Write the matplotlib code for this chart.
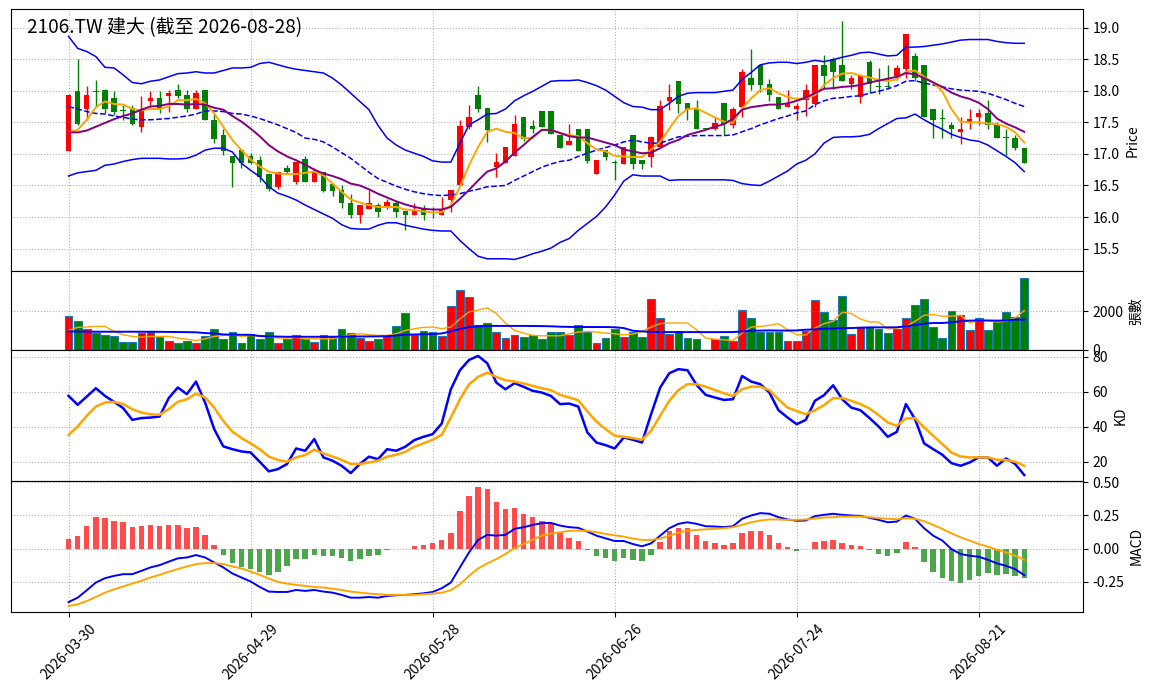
import numpy as np
import pandas as pd
import matplotlib
matplotlib.use("Agg")
import matplotlib.pyplot as plt

plt.rcParams['font.family'] = ['Noto Sans CJK TC', 'DejaVu Sans']
plt.rcParams['axes.unicode_minus'] = False

# ==========================
# DADOS
# ==========================
TITLE = "2106.TW 建大 (截至 2026-08-28)"
HOLIDAYS = ["2026-04-03", "2026-04-06", "2026-05-01", "2026-06-19"]
dates = pd.bdate_range("2026-03-30", "2026-08-28")
dates = dates[~dates.isin(pd.to_datetime(HOLIDAYS))]

opens = [
    17.05, 17.99, 17.71, 17.99, 18.01, 17.88, 17.69, 17.73, 17.43, 17.83,
    17.88, 17.92, 18.01, 17.93, 17.71, 18.01, 17.54, 17.30, 16.97, 17.06,
    16.97, 16.90, 16.68, 16.48, 16.77, 16.56, 16.92, 16.56, 16.72, 16.52,
    16.43, 16.22, 16.03, 16.13, 16.19, 16.17, 16.22, 16.09, 16.03, 16.13,
    16.08, 16.03, 16.27, 16.50, 17.43, 17.93, 17.72, 16.80, 16.86, 16.96,
    17.58, 17.44, 17.68, 17.68, 17.30, 17.14, 17.40, 17.40, 16.68, 17.06,
    16.86, 16.84, 17.30, 16.90, 16.95, 17.11, 17.84, 18.16, 17.80, 17.71,
    17.40, 17.40, 17.80, 17.45, 17.75, 18.20, 18.41, 18.10, 17.90, 17.75,
    17.71, 17.86, 17.79, 18.41, 18.50, 18.41, 18.11, 17.90, 18.45, 18.07,
    18.07, 18.24, 18.34, 18.55, 18.41, 17.71, 17.56, 17.46, 17.34, 17.50,
    17.59, 17.64, 17.46, 17.26, 17.25, 17.10,
]
highs = [
    17.94, 18.50, 18.07, 18.17, 18.02, 17.99, 17.77, 17.77, 17.92, 17.99,
    17.99, 18.01, 18.10, 18.01, 18.01, 18.01, 17.64, 17.40, 16.97, 17.06,
    17.01, 16.97, 16.69, 16.72, 16.82, 16.87, 16.97, 16.77, 16.72, 16.52,
    16.50, 16.37, 16.19, 16.43, 16.22, 16.28, 16.26, 16.09, 16.22, 16.19,
    16.16, 16.32, 16.43, 17.53, 17.78, 18.07, 17.72, 17.01, 17.11, 17.61,
    17.58, 17.53, 17.68, 17.68, 17.30, 17.48, 17.40, 17.40, 16.90, 17.06,
    16.90, 17.11, 17.30, 16.90, 17.29, 17.85, 18.11, 18.16, 17.80, 17.85,
    17.40, 17.58, 17.80, 17.75, 18.35, 18.66, 18.41, 18.19, 17.90, 18.01,
    17.80, 18.11, 18.41, 18.56, 18.54, 19.10, 18.25, 18.24, 18.49, 18.36,
    18.41, 18.41, 18.90, 18.59, 18.41, 17.71, 17.71, 17.50, 17.59, 17.71,
    17.71, 17.85, 17.50, 17.40, 17.30, 17.10,
]
lows = [
    17.04, 17.45, 17.54, 17.75, 17.64, 17.62, 17.54, 17.45, 17.34, 17.75,
    17.64, 17.66, 17.88, 17.66, 17.71, 17.53, 17.17, 16.98, 16.48, 16.77,
    16.84, 16.56, 16.42, 16.45, 16.69, 16.52, 16.56, 16.56, 16.40, 16.33,
    16.14, 15.99, 15.90, 16.13, 16.00, 16.13, 16.00, 15.80, 16.03, 15.95,
    15.99, 16.03, 16.08, 16.50, 17.40, 17.67, 17.19, 16.64, 16.86, 16.96,
    17.20, 17.33, 17.43, 17.32, 17.10, 17.14, 17.05, 16.85, 16.68, 16.90,
    16.58, 16.84, 16.76, 16.76, 16.80, 17.11, 17.70, 17.64, 17.54, 17.40,
    17.40, 17.38, 17.30, 17.41, 17.59, 18.01, 17.98, 17.84, 17.71, 17.75,
    17.54, 17.60, 17.75, 18.04, 18.02, 18.15, 18.02, 17.80, 17.96, 17.95,
    18.02, 18.17, 18.20, 18.15, 17.59, 17.25, 17.25, 17.25, 17.16, 17.40,
    17.46, 17.40, 17.25, 16.99, 17.06, 16.85,
]
closes = [
    17.93, 17.48, 17.93, 17.98, 17.71, 17.67, 17.68, 17.48, 17.71, 17.88,
    17.71, 17.97, 17.92, 17.71, 17.97, 17.53, 17.24, 17.05, 16.86, 16.86,
    16.86, 16.63, 16.45, 16.72, 16.72, 16.87, 16.56, 16.71, 16.42, 16.42,
    16.22, 16.03, 16.19, 16.22, 16.08, 16.24, 16.08, 16.03, 16.11, 16.03,
    16.07, 16.13, 16.43, 17.44, 17.58, 17.71, 17.38, 16.87, 17.11, 17.48,
    17.24, 17.39, 17.43, 17.32, 17.10, 17.20, 17.05, 16.89, 16.90, 16.95,
    16.85, 17.11, 16.84, 16.84, 17.26, 17.76, 17.90, 17.79, 17.70, 17.40,
    17.40, 17.49, 17.48, 17.71, 18.30, 18.09, 18.09, 17.93, 17.71, 17.81,
    17.76, 18.01, 18.41, 18.24, 18.29, 18.15, 18.20, 18.24, 18.11, 18.06,
    18.06, 18.36, 18.90, 18.20, 17.59, 17.54, 17.55, 17.40, 17.40, 17.55,
    17.64, 17.45, 17.25, 17.25, 17.10, 16.85,
]
volume = [
    1739, 1478, 1096, 870, 748, 696, 435, 435, 870, 904,
    643, 487, 383, 487, 383, 696, 1078, 557, 922, 348,
    817, 557, 922, 348, 557, 748, 574, 400, 748, 643,
    1078, 870, 609, 487, 574, 748, 1217, 1913, 783, 957,
    922, 696, 2261, 3096, 2730, 1270, 1391, 922, 609, 748,
    643, 748, 557, 922, 922, 748, 1270, 922, 348, 609,
    1078, 643, 922, 661, 2643, 1635, 817, 957, 609, 557,
    0, 557, 696, 470, 2052, 1635, 922, 922, 922, 470,
    470, 991, 2574, 1965, 1530, 2783, 817, 1183, 1183, 1078,
    870, 1078, 1635, 2330, 2643, 1183, 609, 2017, 1791, 1026,
    1635, 1026, 1478, 1965, 1687, 3687,
]

# indicadores
ma5 = [
    17.34, 17.38, 17.54, 17.74, 17.83, 17.79, 17.78, 17.71, 17.69, 17.71,
    17.71, 17.75, 17.85, 17.85, 17.87, 17.80, 17.64, 17.43, 17.22, 17.06,
    16.91, 16.80, 16.72, 16.69, 16.68, 16.68, 16.70, 16.72, 16.66, 16.53,
    16.40, 16.28, 16.23, 16.19, 16.16, 16.16, 16.16, 16.12, 16.11, 16.09,
    16.07, 16.08, 16.19, 16.48, 16.82, 17.11, 17.35, 17.40, 17.35, 17.33,
    17.25, 17.25, 17.38, 17.38, 17.33, 17.30, 17.28, 17.17, 17.07, 17.04,
    16.97, 16.96, 16.95, 16.95, 17.07, 17.19, 17.40, 17.60, 17.71, 17.72,
    17.65, 17.58, 17.51, 17.49, 17.72, 17.88, 18.01, 18.04, 17.96, 17.90,
    17.87, 17.88, 17.93, 18.09, 18.20, 18.27, 18.28, 18.24, 18.21, 18.17,
    18.15, 18.18, 18.30, 18.32, 18.22, 18.13, 17.99, 17.71, 17.51, 17.50,
    17.50, 17.48, 17.47, 17.43, 17.34, 17.18,
]
ma10 = [
    17.34, 17.34, 17.37, 17.43, 17.49, 17.55, 17.60, 17.64, 17.70, 17.75,
    17.76, 17.79, 17.79, 17.78, 17.79, 17.78, 17.73, 17.70, 17.60, 17.51,
    17.40, 17.28, 17.14, 17.04, 16.96, 16.90, 16.83, 16.75, 16.69, 16.65,
    16.60, 16.53, 16.50, 16.44, 16.37, 16.31, 16.25, 16.20, 16.16, 16.13,
    16.12, 16.12, 16.16, 16.29, 16.43, 16.58, 16.72, 16.77, 16.88, 17.02,
    17.14, 17.27, 17.38, 17.38, 17.33, 17.28, 17.26, 17.26, 17.22, 17.18,
    17.14, 17.07, 17.04, 17.01, 17.02, 17.09, 17.17, 17.22, 17.30, 17.34,
    17.38, 17.43, 17.47, 17.56, 17.70, 17.74, 17.76, 17.78, 17.78, 17.80,
    17.84, 17.89, 17.96, 18.03, 18.04, 18.06, 18.07, 18.09, 18.13, 18.16,
    18.19, 18.22, 18.28, 18.26, 18.20, 18.13, 18.06, 17.97, 17.91, 17.87,
    17.81, 17.71, 17.56, 17.48, 17.42, 17.35,
]
bb_mid = [
    17.75, 17.71, 17.67, 17.64, 17.63, 17.60, 17.58, 17.55, 17.54, 17.54,
    17.55, 17.56, 17.58, 17.60, 17.63, 17.68, 17.68, 17.67, 17.64, 17.63,
    17.60, 17.56, 17.51, 17.46, 17.40, 17.34, 17.25, 17.23, 17.19, 17.11,
    17.02, 16.93, 16.82, 16.71, 16.61, 16.55, 16.49, 16.44, 16.40, 16.37,
    16.35, 16.34, 16.35, 16.37, 16.41, 16.44, 16.48, 16.49, 16.50, 16.58,
    16.65, 16.72, 16.79, 16.84, 16.88, 16.90, 16.96, 17.01, 17.06, 17.10,
    17.14, 17.19, 17.22, 17.19, 17.17, 17.17, 17.22, 17.27, 17.28, 17.29,
    17.29, 17.29, 17.29, 17.30, 17.35, 17.40, 17.46, 17.51, 17.56, 17.60,
    17.65, 17.68, 17.78, 17.84, 17.88, 17.89, 17.91, 17.92, 17.96, 17.99,
    18.03, 18.08, 18.15, 18.16, 18.12, 18.09, 18.06, 18.03, 18.01, 18.00,
    17.99, 17.96, 17.91, 17.86, 17.80, 17.75,
]
bb_upper = [
    18.86, 18.67, 18.62, 18.54, 18.37, 18.36, 18.25, 18.13, 18.11, 18.15,
    18.17, 18.22, 18.27, 18.28, 18.30, 18.28, 18.28, 18.32, 18.36, 18.36,
    18.37, 18.43, 18.45, 18.41, 18.37, 18.34, 18.32, 18.30, 18.28, 18.20,
    18.09, 17.96, 17.83, 17.70, 17.45, 17.25, 17.14, 17.06, 17.01, 16.96,
    16.89, 16.87, 16.87, 17.17, 17.46, 17.54, 17.63, 17.64, 17.71, 17.84,
    17.92, 17.99, 18.07, 18.15, 18.16, 18.16, 18.17, 18.13, 18.08, 18.01,
    17.91, 17.81, 17.75, 17.74, 17.70, 17.70, 17.80, 17.91, 17.96, 17.97,
    17.97, 17.97, 17.99, 18.01, 18.18, 18.29, 18.41, 18.44, 18.45, 18.45,
    18.43, 18.45, 18.48, 18.46, 18.49, 18.53, 18.56, 18.60, 18.61, 18.58,
    18.55, 18.56, 18.69, 18.69, 18.70, 18.72, 18.74, 18.77, 18.80, 18.81,
    18.81, 18.81, 18.78, 18.76, 18.75, 18.75,
]
bb_lower = [
    16.65, 16.70, 16.72, 16.74, 16.82, 16.84, 16.88, 16.91, 16.93, 16.93,
    16.93, 16.92, 16.92, 16.93, 16.98, 17.06, 17.09, 17.09, 17.03, 16.85,
    16.74, 16.64, 16.48, 16.38, 16.33, 16.27, 16.19, 16.12, 16.05, 15.98,
    15.88, 15.82, 15.81, 15.81, 15.87, 15.91, 15.91, 15.87, 15.84, 15.81,
    15.79, 15.78, 15.78, 15.63, 15.50, 15.38, 15.34, 15.34, 15.34, 15.33,
    15.37, 15.42, 15.46, 15.51, 15.60, 15.66, 15.79, 15.90, 16.01, 16.16,
    16.35, 16.57, 16.67, 16.65, 16.65, 16.65, 16.58, 16.59, 16.59, 16.59,
    16.59, 16.59, 16.59, 16.58, 16.53, 16.51, 16.50, 16.57, 16.65, 16.73,
    16.84, 16.90, 17.00, 17.17, 17.26, 17.27, 17.27, 17.28, 17.31, 17.40,
    17.48, 17.56, 17.57, 17.63, 17.54, 17.46, 17.39, 17.31, 17.26, 17.22,
    17.20, 17.14, 17.05, 16.96, 16.86, 16.72,
]
vol_ma5 = [
    1009, 1165, 1183, 1217, 1217, 957, 783, 696, 661, 696,
    696, 696, 609, 557, 487, 574, 696, 748, 783, 696,
    748, 696, 696, 609, 609, 643, 574, 574, 574, 574,
    696, 783, 835, 783, 748, 748, 835, 1009, 1096, 1165,
    1183, 1096, 1183, 1600, 1965, 2052, 2174, 1878, 1391, 1009,
    870, 748, 730, 730, 730, 835, 922, 957, 922, 870,
    835, 783, 817, 957, 1183, 1357, 1391, 1391, 1391, 1043,
    609, 557, 522, 487, 870, 1183, 1217, 1270, 1357, 1043,
    783, 770, 1130, 1357, 1478, 1948, 1878, 1600, 1443, 1443,
    1078, 1130, 1217, 1478, 1791, 1826, 1739, 1739, 1791, 1391,
    1530, 1513, 1443, 1478, 1652, 2035,
]
vol_ma20 = [
    957, 950, 945, 940, 940, 940, 940, 940, 940, 940,
    935, 930, 925, 920, 910, 870, 850, 800, 790, 783,
    783, 720, 700, 690, 680, 680, 680, 680, 680, 680,
    690, 696, 696, 696, 700, 710, 748, 783, 800, 810,
    820, 850, 957, 1078, 1183, 1217, 1240, 1240, 1240, 1240,
    1240, 1235, 1230, 1220, 1200, 1190, 1183, 1183, 1183, 1183,
    1170, 1130, 991, 957, 930, 925, 922, 922, 922, 922,
    920, 920, 922, 922, 957, 991, 1000, 1009, 1000, 1000,
    1009, 1043, 1060, 1096, 1100, 1130, 1130, 1150, 1165, 1165,
    1165, 1170, 1217, 1287, 1357, 1391, 1391, 1426, 1478, 1513,
    1520, 1520, 1513, 1520, 1565, 1565,
]
k_line = [
    57.7, 52.6, 57.3, 62.1, 57.7, 54.3, 50.7, 44.0, 45.0, 45.3,
    45.9, 56.4, 62.5, 58.7, 65.9, 53.9, 38.7, 28.8, 27.2, 25.9,
    25.3, 20.0, 14.5, 15.8, 18.7, 27.6, 26.3, 33.0, 22.5, 20.6,
    17.7, 13.5, 18.7, 22.9, 21.5, 27.2, 26.3, 28.6, 32.4, 34.3,
    35.8, 41.9, 61.5, 72.4, 78.3, 80.6, 76.4, 65.3, 61.5, 65.0,
    62.9, 60.6, 59.6, 57.7, 53.0, 53.3, 51.6, 36.8, 31.0, 29.5,
    27.6, 33.9, 32.6, 31.0, 47.2, 62.5, 70.7, 73.0, 72.4, 64.0,
    58.3, 56.8, 55.4, 55.8, 69.1, 65.9, 64.4, 59.6, 49.5, 45.3,
    41.5, 44.0, 54.9, 58.1, 63.8, 55.8, 51.0, 49.5, 45.0, 40.2,
    34.3, 37.1, 53.0, 44.4, 30.5, 27.2, 24.0, 19.2, 17.7, 19.6,
    22.5, 22.5, 17.7, 21.9, 18.7, 12.4,
]
d_line = [
    35.4, 40.2, 46.3, 51.6, 53.9, 54.3, 53.0, 50.1, 48.2, 47.2,
    46.9, 50.1, 54.3, 55.8, 59.0, 56.8, 51.0, 43.4, 37.3, 33.5,
    30.5, 27.2, 23.0, 21.0, 20.0, 22.5, 23.8, 26.9, 24.8, 23.0,
    21.1, 18.7, 18.7, 19.6, 20.6, 22.9, 24.0, 25.7, 28.6, 30.5,
    32.6, 35.4, 45.3, 55.8, 64.4, 68.6, 71.0, 68.6, 66.7, 65.9,
    64.8, 63.4, 62.1, 61.0, 58.3, 56.8, 55.2, 48.8, 43.0, 38.7,
    34.9, 34.3, 33.5, 32.6, 37.7, 46.3, 54.9, 61.0, 64.4, 64.4,
    63.0, 61.1, 59.2, 57.7, 61.5, 63.0, 63.0, 61.0, 55.8, 51.0,
    49.1, 47.2, 49.5, 52.4, 56.4, 56.4, 54.9, 53.0, 50.5, 46.7,
    42.5, 40.6, 44.8, 45.0, 39.6, 34.9, 30.1, 25.3, 23.0, 22.5,
    22.5, 22.5, 21.1, 21.0, 20.0, 17.7,
]
dif = [
    -0.402, -0.369, -0.313, -0.255, -0.222, -0.205, -0.192, -0.192, -0.167, -0.141,
    -0.124, -0.098, -0.073, -0.066, -0.048, -0.066, -0.104, -0.141, -0.187, -0.217,
    -0.247, -0.288, -0.323, -0.326, -0.326, -0.311, -0.318, -0.311, -0.323, -0.331,
    -0.348, -0.369, -0.369, -0.364, -0.369, -0.356, -0.351, -0.348, -0.343, -0.336,
    -0.326, -0.298, -0.255, -0.141, -0.028, 0.066, 0.104, 0.098, 0.104, 0.149,
    0.162, 0.179, 0.192, 0.194, 0.174, 0.162, 0.157, 0.129, 0.098, 0.078,
    0.058, 0.058, 0.035, 0.018, 0.040, 0.098, 0.154, 0.187, 0.199, 0.187,
    0.169, 0.167, 0.162, 0.169, 0.225, 0.250, 0.268, 0.263, 0.237, 0.220,
    0.210, 0.212, 0.245, 0.255, 0.263, 0.255, 0.250, 0.247, 0.232, 0.217,
    0.199, 0.204, 0.250, 0.225, 0.154, 0.098, 0.061, -0.003, -0.040, -0.053,
    -0.061, -0.083, -0.111, -0.129, -0.154, -0.199,
]
dea = [
    -0.432, -0.419, -0.394, -0.364, -0.331, -0.306, -0.285, -0.263, -0.242, -0.217,
    -0.197, -0.174, -0.154, -0.134, -0.116, -0.109, -0.109, -0.116, -0.134, -0.149,
    -0.172, -0.197, -0.225, -0.250, -0.263, -0.273, -0.280, -0.288, -0.293, -0.301,
    -0.311, -0.323, -0.331, -0.338, -0.343, -0.348, -0.348, -0.348, -0.348, -0.343,
    -0.338, -0.331, -0.313, -0.268, -0.205, -0.149, -0.111, -0.078, -0.040, 0.005,
    0.035, 0.068, 0.098, 0.113, 0.124, 0.134, 0.136, 0.134, 0.124, 0.111,
    0.101, 0.091, 0.076, 0.066, 0.066, 0.076, 0.098, 0.121, 0.136, 0.141,
    0.146, 0.149, 0.154, 0.162, 0.179, 0.199, 0.212, 0.220, 0.220, 0.217,
    0.217, 0.220, 0.227, 0.235, 0.237, 0.242, 0.242, 0.242, 0.237, 0.230,
    0.225, 0.222, 0.230, 0.225, 0.207, 0.179, 0.149, 0.116, 0.086, 0.061,
    0.035, 0.015, -0.008, -0.028, -0.053, -0.083,
]
macd_hist = [
    0.071, 0.098, 0.174, 0.237, 0.230, 0.212, 0.199, 0.162, 0.169, 0.182,
    0.169, 0.182, 0.182, 0.154, 0.162, 0.101, 0.025, -0.048, -0.111, -0.141,
    -0.154, -0.179, -0.199, -0.172, -0.134, -0.078, -0.078, -0.048, -0.058, -0.058,
    -0.071, -0.093, -0.078, -0.058, -0.048, -0.010, -0.003, -0.001, 0.018, 0.025,
    0.040, 0.066, 0.116, 0.283, 0.396, 0.465, 0.449, 0.351, 0.298, 0.306,
    0.260, 0.237, 0.212, 0.190, 0.119, 0.078, 0.058, -0.010, -0.058, -0.071,
    -0.093, -0.073, -0.086, -0.093, -0.048, 0.048, 0.134, 0.154, 0.154, 0.101,
    0.056, 0.040, 0.025, 0.040, 0.116, 0.131, 0.131, 0.101, 0.040, 0.010,
    -0.015, -0.005, 0.048, 0.056, 0.063, 0.040, 0.025, 0.018, -0.008, -0.040,
    -0.053, -0.033, 0.048, 0.010, -0.104, -0.172, -0.217, -0.247, -0.260, -0.237,
    -0.202, -0.184, -0.199, -0.194, -0.202, -0.222,
]


def main():
    o = np.array(opens)
    h = np.array(highs)
    l = np.array(lows)
    c = np.array(closes)
    v = np.array(volume)
    x = np.arange(len(c))

    up = c > o
    cores = np.where(up, "red", "green")

    fig, axes = plt.subplots(
        4, 1, sharex=True, figsize=(11.57, 6.98), dpi=100,
        gridspec_kw={"height_ratios": [4, 1.2, 2, 2], "hspace": 0},
    )
    fig.subplots_adjust(left=0.0093, right=0.936, top=0.9867, bottom=0.1232)
    ax_p, ax_v, ax_kd, ax_m = axes

    # 1) Preço: candles + bollinger + médias
    ax_p.vlines(x, l, h, colors=cores, linewidth=1)
    corpo = np.maximum(np.abs(c - o), 0.015)
    ax_p.bar(x, corpo, bottom=np.minimum(o, c), width=0.6, color=cores)
    ax_p.plot(x, bb_upper, color="blue", lw=1.1)
    ax_p.plot(x, bb_lower, color="blue", lw=1.1)
    ax_p.plot(x, bb_mid, color="blue", lw=1.1, ls="--")
    ax_p.plot(x, ma5, color="orange", lw=1.4)
    ax_p.plot(x, ma10, color="purple", lw=1.4)
    ax_p.text(0.015, 0.97, TITLE, transform=ax_p.transAxes,
              fontsize=13.7, va="top", ha="left")
    ax_p.set_ylabel("Price")

    # 2) Volume
    ax_v.bar(x, v, width=0.85, color=cores, edgecolor="#1f77b4", linewidth=0.8)
    ax_v.plot(x, vol_ma5, color="orange", lw=1.0)
    ax_v.plot(x, vol_ma20, color="blue", lw=1.4)
    ax_v.set_ylim(0, v.max() * 1.1)
    ax_v.set_yticks([0, 2000])
    ax_v.set_ylabel("張數")

    # 3) KD
    ax_kd.plot(x, k_line, color="blue", lw=1.8)
    ax_kd.plot(x, d_line, color="orange", lw=1.8)
    ax_kd.set_yticks([20, 40, 60, 80])
    ax_kd.set_ylabel("KD")

    # 4) MACD
    hist = np.array(macd_hist)
    ax_m.bar(x, hist, width=0.6, color=np.where(hist >= 0, "red", "green"), alpha=0.7)
    ax_m.plot(x, dif, color="blue", lw=1.4)
    ax_m.plot(x, dea, color="orange", lw=1.4)
    ax_m.set_yticks([-0.25, 0.0, 0.25, 0.5])
    ax_m.set_ylabel("MACD")

    for ax in axes:
        ax.yaxis.tick_right()
        ax.yaxis.set_label_position("right")
        ax.grid(True, linestyle=":", color="gray", alpha=0.6)
        ax.tick_params(labelsize=10)

    tick_pos = x[::20]
    ax_m.set_xticks(tick_pos)
    ax_m.set_xticklabels([dates[i].strftime("%Y-%m-%d") for i in tick_pos], rotation=45)
    ax_m.set_xlim(-6.35, 111.45)

    fig.savefig("out.png", dpi=100)
    plt.close(fig)


if __name__ == "__main__":
    main()
